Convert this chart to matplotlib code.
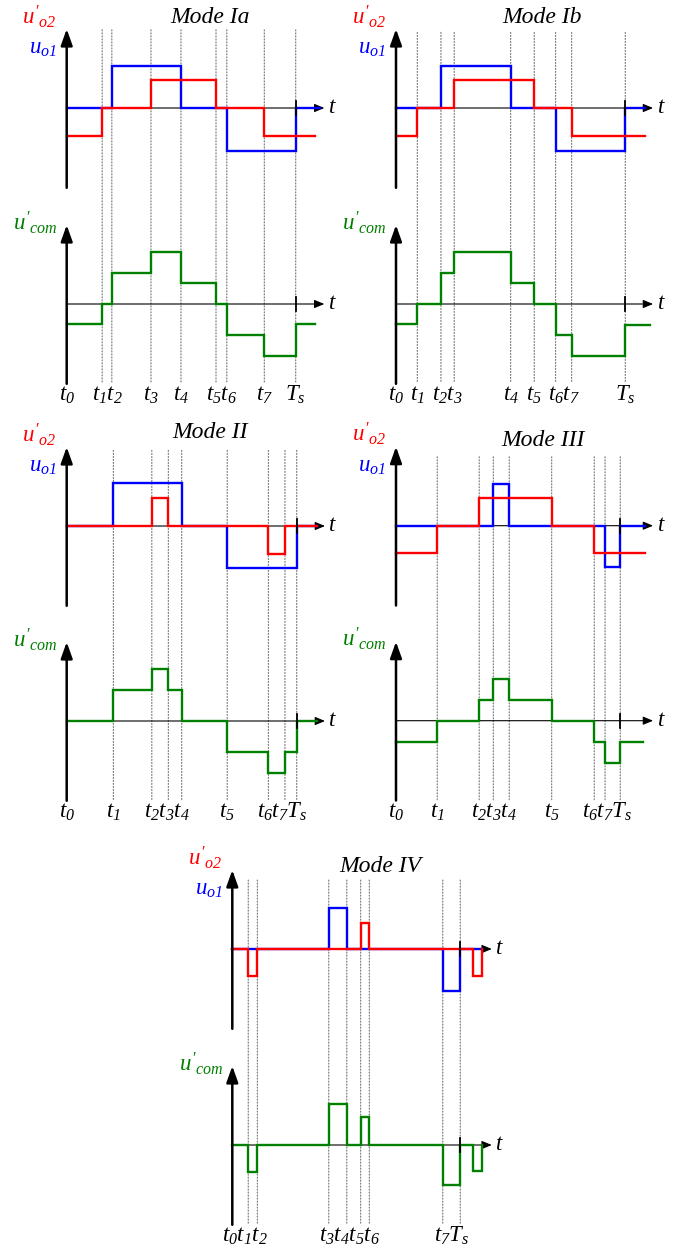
import numpy as np
import matplotlib.pyplot as plt
from matplotlib.patches import ConnectionPatch

plt.rcParams['mathtext.fontset'] = 'custom'
plt.rcParams['mathtext.it'] = 'Liberation Serif:italic'
plt.rcParams['mathtext.rm'] = 'Liberation Serif:italic'
plt.rcParams['mathtext.default'] = 'it'

BLUE = '#0000ff'
RED = '#ff0000'
GREEN = '#008000'

tick_names = ['t_{0}', 't_{1}', 't_{2}', 't_{3}', 't_{4}', 't_{5}', 't_{6}', 't_{7}', 'T_{s}']

# switching instants t0..Ts as a fraction of Ts
ia_times = [0, 0.155, 0.197, 0.368, 0.499, 0.652, 0.699, 0.863, 1.0]
ia_uo1_edges = [0, 0.197, 0.499, 0.699, 1.0, 1.106]
ia_uo1 = [0, 1.0, 0, -1.02, 0]
ia_uo2_edges = [0, 0.155, 0.368, 0.652, 0.863, 1.084]
ia_uo2 = [-0.67, 0, 0.66, 0, -0.67]
ia_com_edges = [0, 0.155, 0.197, 0.368, 0.499, 0.652, 0.699, 0.863, 1.0, 1.084]
ia_com = [-0.48, 0, 0.75, 1.25, 0.51, 0, -0.74, -1.23, -0.48]
ia_groups = [[0], [1, 2], [3], [4], [5, 6], [7], [8]]

ib_times = [0, 0.093, 0.196, 0.254, 0.500, 0.603, 0.696, 0.766, 1.0]
ib_uo1_edges = [0, 0.196, 0.500, 0.696, 1.0, 1.086]
ib_uo1 = [0, 1.0, 0, -1.02, 0]
ib_uo2_edges = [0, 0.093, 0.254, 0.603, 0.766, 1.086]
ib_uo2 = [-0.67, 0, 0.66, 0, -0.67]
ib_com_edges = [0, 0.093, 0.196, 0.254, 0.500, 0.603, 0.696, 0.766, 1.0, 1.108]
ib_com = [-0.48, 0, 0.75, 1.25, 0.5, 0, -0.74, -1.23, -0.5]
ib_groups = [[0], [1], [2, 3], [4], [5], [6, 7], [8]]

ii_times = [0, 0.203, 0.370, 0.442, 0.500, 0.698, 0.877, 0.949, 1.0]
ii_uo1_edges = [0, 0.203, 0.500, 0.698, 1.0, 1.087]
ii_uo1 = [0, 1.02, 0, -0.99, 0]
ii_uo2_edges = [0, 0.370, 0.442, 0.877, 0.949, 1.087]
ii_uo2 = [0, 0.66, 0, -0.67, 0]
ii_com_edges = [0, 0.203, 0.370, 0.442, 0.500, 0.698, 0.877, 0.949, 1.0, 1.087]
ii_com = [0, 0.74, 1.23, 0.74, 0, -0.745, -1.245, -0.745, 0]
ii_groups = [[0], [1], [2, 3, 4], [5], [6, 7, 8]]

iii_times = [0, 0.184, 0.371, 0.434, 0.505, 0.694, 0.884, 0.932, 1.0]
iii_uo1_edges = [0, 0.434, 0.505, 0.932, 1.0, 1.11]
iii_uo1 = [0, 0.99, 0, -0.98, 0]
iii_uo2_edges = [0, 0.184, 0.371, 0.694, 0.884, 1.11]
iii_uo2 = [-0.66, 0, 0.66, 0, -0.66]
iii_com_edges = [0, 0.184, 0.371, 0.434, 0.505, 0.694, 0.884, 0.932, 1.0, 1.103]
iii_com = [-0.51, 0, 0.49, 0.99, 0.49, 0, -0.51, -1.0, -0.51]
iii_groups = [[0], [1], [2, 3, 4], [5], [6, 7, 8]]

iv_times = [0, 0.070, 0.110, 0.423, 0.502, 0.563, 0.601, 0.923, 1.0]
iv_uo1_edges = [0, 0.423, 0.502, 0.923, 1.0, 1.096]
iv_uo1 = [0, 0.98, 0, -0.99, 0]
iv_uo2_edges = [0, 0.070, 0.110, 0.563, 0.601, 1.057, 1.096, 1.096]
iv_uo2 = [0, -0.64, 0, 0.63, 0, -0.64, 0]
iv_com_edges = [0, 0.070, 0.110, 0.423, 0.502, 0.563, 0.601, 0.923, 1.0, 1.057, 1.096, 1.096]
iv_com = [0, -0.64, 0, 0.98, 0, 0.67, 0, -0.96, 0, -0.62, 0]
iv_groups = [[0, 1, 2], [3, 4, 5, 6], [7, 8]]

modes = [
    # title, data, layout (t0 px, Ts px, top zero px, bottom zero px, title x/y px, dotted top, arrow end)
    ('Mode Ia', ia_times, ia_uo1_edges, ia_uo1, ia_uo2_edges, ia_uo2, ia_com_edges, ia_com, ia_groups,
     (66.7, 295.7, 108, 304, 210, 23, 1.86, 1.125)),
    ('Mode Ib', ib_times, ib_uo1_edges, ib_uo1, ib_uo2_edges, ib_uo2, ib_com_edges, ib_com, ib_groups,
     (396, 625.3, 108, 304, 542, 23, 1.8, 1.121)),
    ('Mode II', ii_times, ii_uo1_edges, ii_uo1, ii_uo2_edges, ii_uo2, ii_com_edges, ii_com, ii_groups,
     (66.7, 296.7, 526, 721, 210, 438, 1.8, 1.123)),
    ('Mode III', iii_times, iii_uo1_edges, iii_uo1, iii_uo2_edges, iii_uo2, iii_com_edges, iii_com, iii_groups,
     (396, 620.3, 525.7, 720.7, 543, 446, 1.64, 1.146)),
    ('Mode IV', iv_times, iv_uo1_edges, iv_uo1, iv_uo2_edges, iv_uo2, iv_com_edges, iv_com, iv_groups,
     (232.3, 460.3, 949, 1145, 380, 872, 1.64, 1.138)),
]

W, H = 692, 1251
UNIT = 42.0      # pixels per unit of voltage
XPAD, XHI, YLIM = 0.35, 1.25, 2.5
FS = 16.5

fig = plt.figure(figsize=(W / 100, H / 100), dpi=100)


def make_ax(t0_px, ts_px, zero_px):
    span = ts_px - t0_px
    left = t0_px - XPAD * span
    top = zero_px - YLIM * UNIT
    ax = fig.add_axes([left / W, 1 - (top + 2 * YLIM * UNIT) / H,
                       (XPAD + XHI) * span / W, 2 * YLIM * UNIT / H])
    ax.set_xlim(-XPAD, XHI)
    ax.set_ylim(-YLIM, YLIM)
    ax.axis('off')
    return ax


def draw_axes(ax, t_end):
    ax.annotate('', xy=(0, 1.88), xytext=(0, -1.9),
                arrowprops=dict(arrowstyle='-|>,head_length=0.7,head_width=0.25',
                                mutation_scale=14, lw=1.8, color='k',
                                shrinkA=0, shrinkB=0), zorder=5)
    ax.annotate('', xy=(t_end, 0), xytext=(0, 0),
                arrowprops=dict(arrowstyle='-|>,head_length=0.6,head_width=0.25',
                                mutation_scale=10, lw=0.8, color='k',
                                shrinkA=0, shrinkB=0), zorder=2)
    ax.annotate('$t$', xy=(t_end, 0), xytext=(2.5, -3.5), textcoords='offset points',
                ha='left', va='baseline', fontsize=FS)
    ax.plot([1, 1], [-0.17, 0.17], color='k', lw=1.3, zorder=6)


def draw_steps(ax, edges, levels, color, z):
    xs = np.repeat(edges, 2)[1:-1]
    ys = np.repeat(levels, 2)
    ax.plot(xs, ys, color=color, lw=1.7, zorder=z, solid_joinstyle='miter')


for (title, times, e1, u1, e2, u2, ec, uc, groups, lay) in modes:
    t0_px, ts_px, ztop, zbot, tx, ty, dot_top, t_end = lay
    ax_top = make_ax(t0_px, ts_px, ztop)
    ax_bot = make_ax(t0_px, ts_px, zbot)

    for ax in (ax_top, ax_bot):
        draw_axes(ax, t_end)

    draw_steps(ax_top, e1, u1, BLUE, 3)
    draw_steps(ax_top, e2, u2, RED, 3.5)
    draw_steps(ax_bot, ec, uc, GREEN, 3)

    # dotted guides through both panels
    for t in times[1:]:
        con = ConnectionPatch(xyA=(t, dot_top), coordsA=ax_top.transData,
                              xyB=(t, -1.88), coordsB=ax_bot.transData,
                              color='0.5', lw=0.9, linestyle=(0, (0.8, 1.6)), zorder=-1)
        fig.add_artist(con)

    for g in groups:
        label = '$' + ''.join(tick_names[i] for i in g) + '$'
        xc = (times[g[0]] + times[g[-1]]) / 2
        ax_bot.text(xc, -2.31, label, ha='center', va='baseline', fontsize=FS)

    fig.text(tx / W, 1 - ty / H, title, ha='center', va='baseline', fontsize=17,
             family='Liberation Serif', style='italic')
    fig.text((t0_px - 10) / W, 1 - (ztop - 84) / H, r"$u'_{o2}$", color=RED,
             ha='right', va='baseline', fontsize=FS)
    fig.text((t0_px - 10) / W, 1 - (ztop - 54) / H, r"$u_{o1}$", color=BLUE,
             ha='right', va='baseline', fontsize=FS)
    fig.text((t0_px - 9) / W, 1 - (zbot - 74) / H, r"$u'_{com}$", color=GREEN,
             ha='right', va='baseline', fontsize=FS)

fig.savefig('out.png', dpi=100)
